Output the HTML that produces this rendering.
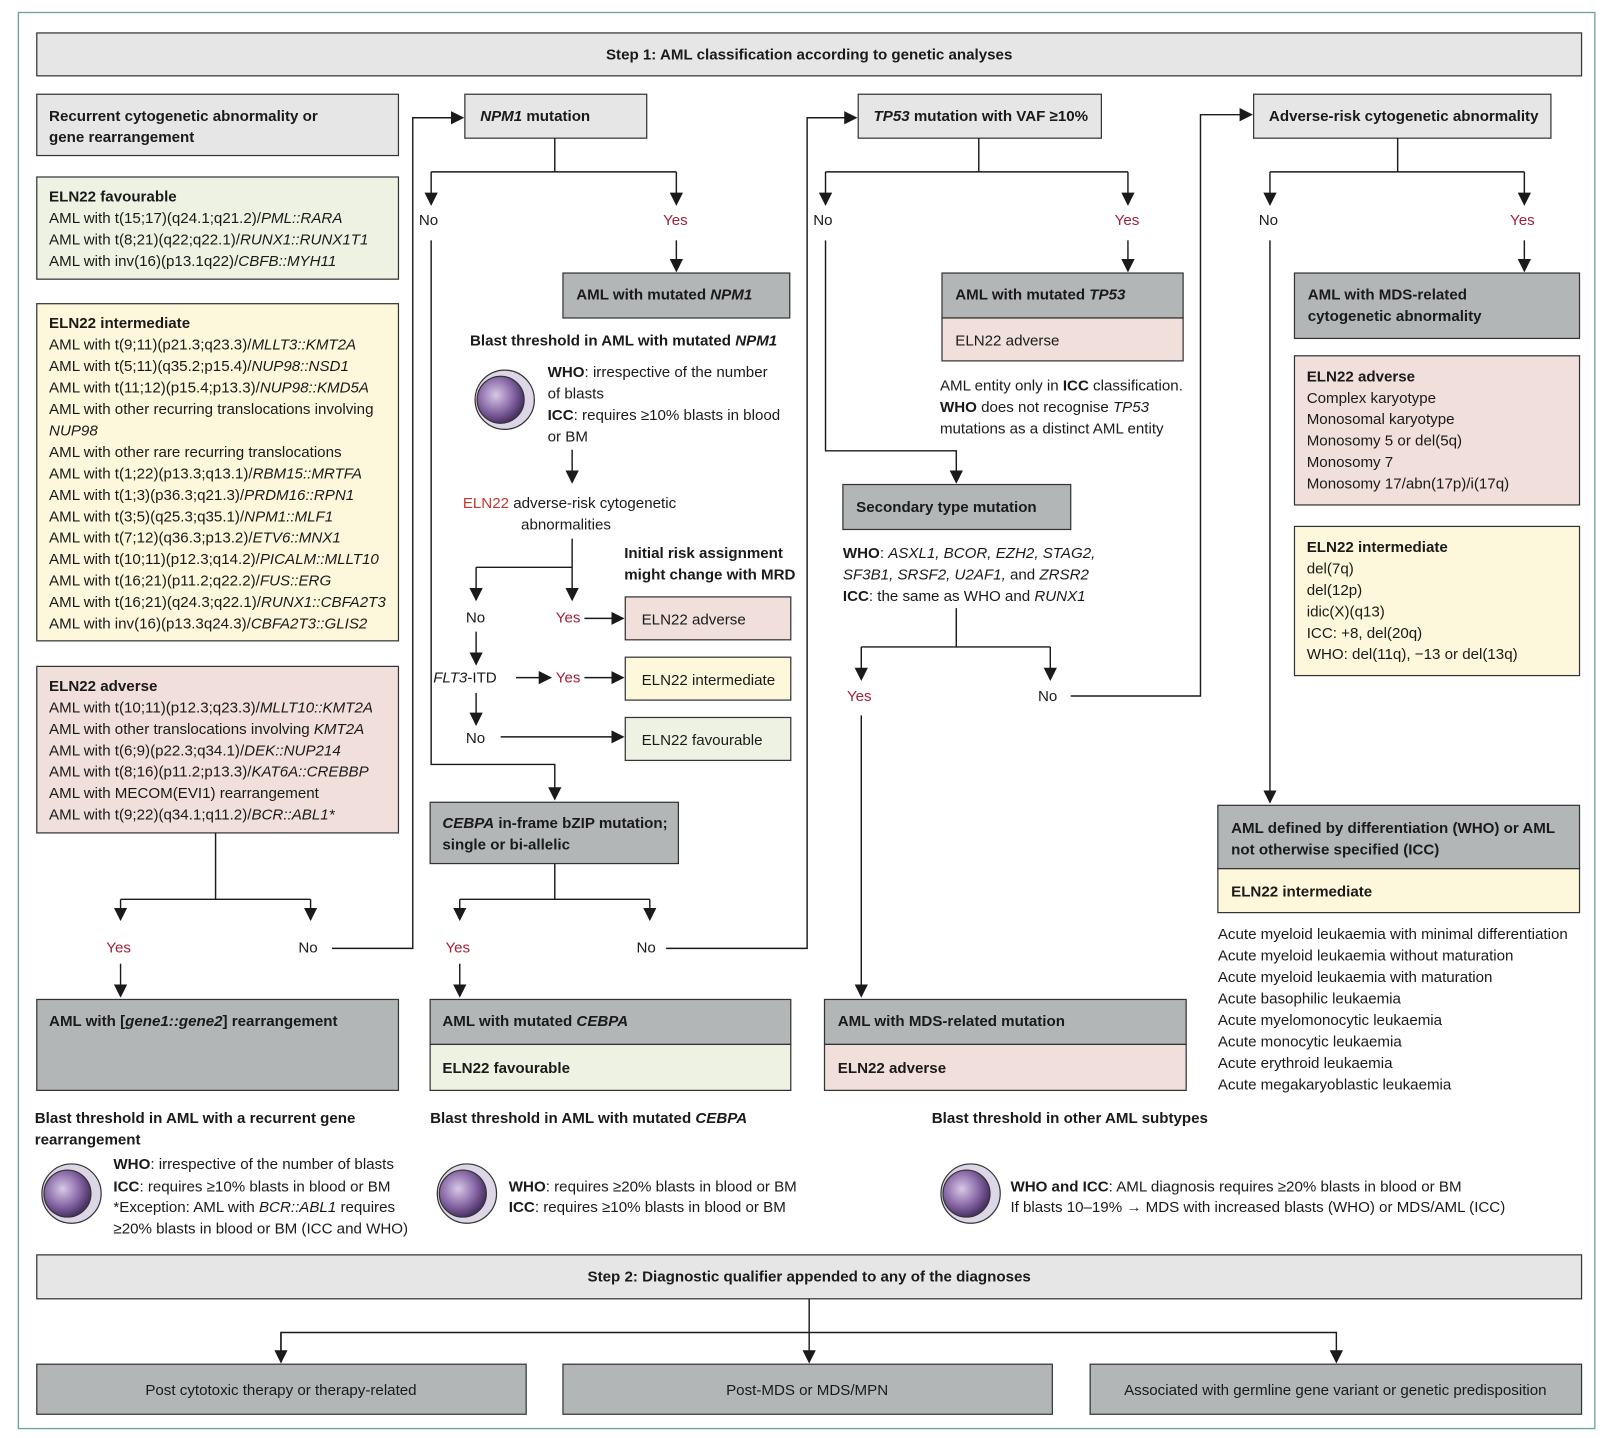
<!DOCTYPE html>
<html><head><meta charset="utf-8"><style>
html,body{margin:0;padding:0;background:#fff;}
svg{display:block;}
text{font-family:"Liberation Sans",sans-serif;font-size:14.8px;fill:#1a1a1a;}
.b{font-weight:bold;}
.r{fill:#a3203a;}
.ln{stroke:#1a1a1a;stroke-width:1.4;fill:none;}
.bx{stroke:#333;stroke-width:1.2;}
.lg{fill:#e6e6e6;}.dg{fill:#b3b6b7;}.gr{fill:#eef2e2;}.ye{fill:#fdf7db;}.pk{fill:#f1dfdb;}
</style></head><body>
<svg width="1602" height="1438" viewBox="0 0 1568 1407" xmlns="http://www.w3.org/2000/svg">
<defs>
<marker id="a" viewBox="0 0 10 10" refX="9" refY="5" markerWidth="13" markerHeight="13" markerUnits="userSpaceOnUse" orient="auto"><path d="M0,0L10,5L0,10z" fill="#1a1a1a"/></marker>
<radialGradient id="cg" cx="40%" cy="40%" r="60%"><stop offset="0" stop-color="#d8c9e6"/><stop offset="0.6" stop-color="#8a6aa8"/><stop offset="1" stop-color="#4a3366"/></radialGradient>
<g id="cell"><circle r="29" fill="#ddd6e6" stroke="#333" stroke-width="1.2"/><circle cx="-4" cy="0" r="23" fill="url(#cg)" stroke="#333" stroke-width="1.2"/></g>
</defs>
<rect x="18" y="12" width="1543" height="1386" fill="none" stroke="#6aa596" stroke-width="1.3"/>
<rect class="bx lg" x="36" y="32" width="1512" height="42"/>
<text class="b" x="792" y="58" text-anchor="middle">Step 1: AML classification according to genetic analyses</text>

<!-- Column 1 -->
<rect class="bx lg" x="36" y="92" width="354" height="60"/>
<text class="b" x="48" y="118">Recurrent cytogenetic abnormality or</text>
<text class="b" x="48" y="139">gene rearrangement</text>
<rect class="bx gr" x="36" y="173" width="354" height="100"/>
<text class="b" x="48" y="197">ELN22 favourable</text>
<text x="48" y="218">AML with t(15;17)(q24.1;q21.2)/<tspan font-style="italic">PML::RARA</tspan></text>
<text x="48" y="239">AML with t(8;21)(q22;q22.1)/<tspan font-style="italic">RUNX1::RUNX1T1</tspan></text>
<text x="48" y="260">AML with inv(16)(p13.1q22)/<tspan font-style="italic">CBFB::MYH11</tspan></text>
<rect class="bx ye" x="36" y="297" width="354" height="330"/>
<text class="b" x="48" y="321">ELN22 intermediate</text>
<text x="48" y="342">AML with t(9;11)(p21.3;q23.3)/<tspan font-style="italic">MLLT3::KMT2A</tspan></text>
<text x="48" y="363">AML with t(5;11)(q35.2;p15.4)/<tspan font-style="italic">NUP98::NSD1</tspan></text>
<text x="48" y="384">AML with t(11;12)(p15.4;p13.3)/<tspan font-style="italic">NUP98::KMD5A</tspan></text>
<text x="48" y="405">AML with other recurring translocations involving</text>
<text x="48" y="426" font-style="italic">NUP98</text>
<text x="48" y="447">AML with other rare recurring translocations</text>
<text x="48" y="468">AML with t(1;22)(p13.3;q13.1)/<tspan font-style="italic">RBM15::MRTFA</tspan></text>
<text x="48" y="489">AML with t(1;3)(p36.3;q21.3)/<tspan font-style="italic">PRDM16::RPN1</tspan></text>
<text x="48" y="510">AML with t(3;5)(q25.3;q35.1)/<tspan font-style="italic">NPM1::MLF1</tspan></text>
<text x="48" y="531">AML with t(7;12)(q36.3;p13.2)/<tspan font-style="italic">ETV6::MNX1</tspan></text>
<text x="48" y="552">AML with t(10;11)(p12.3;q14.2)/<tspan font-style="italic">PICALM::MLLT10</tspan></text>
<text x="48" y="573">AML with t(16;21)(p11.2;q22.2)/<tspan font-style="italic">FUS::ERG</tspan></text>
<text x="48" y="594">AML with t(16;21)(q24.3;q22.1)/<tspan font-style="italic">RUNX1::CBFA2T3</tspan></text>
<text x="48" y="615">AML with inv(16)(p13.3q24.3)/<tspan font-style="italic">CBFA2T3::GLIS2</tspan></text>
<rect class="bx pk" x="36" y="652" width="354" height="163"/>
<text class="b" x="48" y="676">ELN22 adverse</text>
<text x="48" y="697">AML with t(10;11)(p12.3;q23.3)/<tspan font-style="italic">MLLT10::KMT2A</tspan></text>
<text x="48" y="718">AML with other translocations involving <tspan font-style="italic">KMT2A</tspan></text>
<text x="48" y="739">AML with t(6;9)(p22.3;q34.1)/<tspan font-style="italic">DEK::NUP214</tspan></text>
<text x="48" y="760">AML with t(8;16)(p11.2;p13.3)/<tspan font-style="italic">KAT6A::CREBBP</tspan></text>
<text x="48" y="781">AML with MECOM(EVI1) rearrangement</text>
<text x="48" y="802">AML with t(9;22)(q34.1;q11.2)/<tspan font-style="italic">BCR::ABL1*</tspan></text>
<path class="ln" d="M211,815V880M118,880H304"/>
<path class="ln" d="M118,880V900" marker-end="url(#a)"/>
<path class="ln" d="M304,880V900" marker-end="url(#a)"/>
<text class="r" x="104" y="932">Yes</text>
<text x="292" y="932">No</text>
<path class="ln" d="M325,928H404V115H453" marker-end="url(#a)"/>
<path class="ln" d="M118,943V975" marker-end="url(#a)"/>
<rect class="bx dg" x="36" y="978" width="354" height="89"/>
<text class="b" x="48" y="1004">AML with [<tspan font-style="italic">gene1::gene2</tspan>] rearrangement</text>
<text class="b" x="34" y="1099">Blast threshold in AML with a recurrent gene</text>
<text class="b" x="34" y="1120">rearrangement</text>
<use href="#cell" x="70" y="1168"/>
<text x="111" y="1144"><tspan class="b">WHO</tspan>: irrespective of the number of blasts</text>
<text x="111" y="1166"><tspan class="b">ICC</tspan>: requires ≥10% blasts in blood or BM</text>
<text x="111" y="1186">*Exception: AML with <tspan font-style="italic">BCR::ABL1</tspan> requires</text>
<text x="111" y="1207">≥20% blasts in blood or BM (ICC and WHO)</text>

<!-- Column 2 -->
<rect class="bx lg" x="455" y="92" width="178" height="43"/>
<text class="b" x="470" y="118"><tspan font-style="italic">NPM1</tspan> mutation</text>
<path class="ln" d="M543,135V168M422,168H662"/>
<path class="ln" d="M422,168V200" marker-end="url(#a)"/>
<path class="ln" d="M662,168V200" marker-end="url(#a)"/>
<text x="410" y="220">No</text><text class="r" x="649" y="220">Yes</text>
<path class="ln" d="M662,235V265" marker-end="url(#a)"/>
<rect class="bx dg" x="551" y="267" width="222" height="44"/>
<text class="b" x="564" y="293">AML with mutated <tspan font-style="italic">NPM1</tspan></text>
<text class="b" x="460" y="338">Blast threshold in AML with mutated <tspan font-style="italic">NPM1</tspan></text>
<use href="#cell" x="494" y="391"/>
<text x="536" y="369"><tspan class="b">WHO</tspan>: irrespective of the number</text>
<text x="536" y="390">of blasts</text>
<text x="536" y="411"><tspan class="b">ICC</tspan>: requires ≥10% blasts in blood</text>
<text x="536" y="432">or BM</text>
<path class="ln" d="M560,440V472" marker-end="url(#a)"/>
<text x="453" y="497"><tspan fill="#c0392b">ELN22</tspan> adverse-risk cytogenetic</text>
<text x="510" y="518">abnormalities</text>
<path class="ln" d="M560,527V555M466,555H560"/>
<path class="ln" d="M466,555V587" marker-end="url(#a)"/>
<path class="ln" d="M560,555V587" marker-end="url(#a)"/>
<text class="b" x="611" y="546">Initial risk assignment</text>
<text class="b" x="611" y="567">might change with MRD</text>
<text x="456" y="609">No</text><text class="r" x="544" y="609">Yes</text>
<path class="ln" d="M572,605H610" marker-end="url(#a)"/>
<rect class="bx pk" x="612" y="584" width="162" height="42"/>
<text x="628" y="611">ELN22 adverse</text>
<path class="ln" d="M466,618V650" marker-end="url(#a)"/>
<text x="424" y="668"><tspan font-style="italic">FLT3</tspan>-ITD</text>
<path class="ln" d="M505,663H539" marker-end="url(#a)"/>
<text class="r" x="544" y="668">Yes</text>
<path class="ln" d="M572,663H610" marker-end="url(#a)"/>
<rect class="bx ye" x="612" y="643" width="162" height="42"/>
<text x="628" y="670">ELN22 intermediate</text>
<path class="ln" d="M466,678V709" marker-end="url(#a)"/>
<text x="456" y="727">No</text>
<path class="ln" d="M490,721H610" marker-end="url(#a)"/>
<rect class="bx gr" x="612" y="702" width="162" height="42"/>
<text x="628" y="729">ELN22 favourable</text>
<path class="ln" d="M422,235V748H543V782" marker-end="url(#a)"/>
<rect class="bx dg" x="421" y="785" width="243" height="60"/>
<text class="b" x="433" y="810"><tspan font-style="italic">CEBPA</tspan> in-frame bZIP mutation;</text>
<text class="b" x="433" y="831">single or bi-allelic</text>
<path class="ln" d="M543,845V880M450,880H636"/>
<path class="ln" d="M450,880V900" marker-end="url(#a)"/>
<path class="ln" d="M636,880V900" marker-end="url(#a)"/>
<text class="r" x="436" y="932">Yes</text><text x="623" y="932">No</text>
<path class="ln" d="M652,928H790V115H838" marker-end="url(#a)"/>
<path class="ln" d="M450,943V975" marker-end="url(#a)"/>
<rect class="bx dg" x="421" y="978" width="353" height="44"/>
<text class="b" x="433" y="1004">AML with mutated <tspan font-style="italic">CEBPA</tspan></text>
<rect class="bx gr" x="421" y="1022" width="353" height="45"/>
<text class="b" x="433" y="1050">ELN22 favourable</text>
<text class="b" x="421" y="1099">Blast threshold in AML with mutated <tspan font-style="italic">CEBPA</tspan></text>
<use href="#cell" x="457" y="1168"/>
<text x="498" y="1166"><tspan class="b">WHO</tspan>: requires ≥20% blasts in blood or BM</text>
<text x="498" y="1186"><tspan class="b">ICC</tspan>: requires ≥10% blasts in blood or BM</text>

<!-- Column 3 -->
<rect class="bx lg" x="840" y="92" width="238" height="43"/>
<text class="b" x="855" y="118"><tspan font-style="italic">TP53</tspan> mutation with VAF ≥10%</text>
<path class="ln" d="M958,135V168M808,168H1104"/>
<path class="ln" d="M808,168V200" marker-end="url(#a)"/>
<path class="ln" d="M1104,168V200" marker-end="url(#a)"/>
<text x="796" y="220">No</text><text class="r" x="1091" y="220">Yes</text>
<path class="ln" d="M1104,235V265" marker-end="url(#a)"/>
<rect class="bx dg" x="922" y="267" width="236" height="44"/>
<text class="b" x="935" y="293">AML with mutated <tspan font-style="italic">TP53</tspan></text>
<rect class="bx pk" x="922" y="311" width="236" height="42"/>
<text x="935" y="338">ELN22 adverse</text>
<text x="920" y="382">AML entity only in <tspan class="b">ICC</tspan> classification.</text>
<text x="920" y="403"><tspan class="b">WHO</tspan> does not recognise <tspan font-style="italic">TP53</tspan></text>
<text x="920" y="424">mutations as a distinct AML entity</text>
<path class="ln" d="M808,235V441H936V472" marker-end="url(#a)"/>
<rect class="bx dg" x="825" y="474" width="223" height="44"/>
<text class="b" x="838" y="501">Secondary type mutation</text>
<text x="825" y="546"><tspan class="b">WHO</tspan>: <tspan font-style="italic">ASXL1, BCOR, EZH2, STAG2,</tspan></text>
<text x="825" y="567" font-style="italic">SF3B1, SRSF2, U2AF1, <tspan font-style="normal">and</tspan> ZRSR2</text>
<text x="825" y="588"><tspan class="b">ICC</tspan>: the same as WHO and <tspan font-style="italic">RUNX1</tspan></text>
<path class="ln" d="M936,595V633M843,633H1028"/>
<path class="ln" d="M843,633V665" marker-end="url(#a)"/>
<path class="ln" d="M1028,633V665" marker-end="url(#a)"/>
<text class="r" x="829" y="686">Yes</text><text x="1016" y="686">No</text>
<path class="ln" d="M1048,681H1175V112H1225" marker-end="url(#a)"/>
<path class="ln" d="M843,700V975" marker-end="url(#a)"/>
<rect class="bx dg" x="807" y="978" width="354" height="44"/>
<text class="b" x="820" y="1004">AML with MDS-related mutation</text>
<rect class="bx pk" x="807" y="1022" width="354" height="45"/>
<text class="b" x="820" y="1050">ELN22 adverse</text>
<text class="b" x="912" y="1099">Blast threshold in other AML subtypes</text>
<use href="#cell" x="950" y="1168"/>
<text x="989" y="1166"><tspan class="b">WHO and ICC</tspan>: AML diagnosis requires ≥20% blasts in blood or BM</text>
<text x="989" y="1186">If blasts 10–19% → MDS with increased blasts (WHO) or MDS/AML (ICC)</text>

<!-- Column 4 -->
<rect class="bx lg" x="1227" y="92" width="291" height="43"/>
<text class="b" x="1242" y="118">Adverse-risk cytogenetic abnormality</text>
<path class="ln" d="M1368,135V168M1243,168H1492"/>
<path class="ln" d="M1243,168V200" marker-end="url(#a)"/>
<path class="ln" d="M1492,168V200" marker-end="url(#a)"/>
<text x="1232" y="220">No</text><text class="r" x="1478" y="220">Yes</text>
<path class="ln" d="M1492,235V265" marker-end="url(#a)"/>
<rect class="bx dg" x="1267" y="267" width="279" height="64"/>
<text class="b" x="1280" y="293">AML with MDS-related</text>
<text class="b" x="1280" y="314">cytogenetic abnormality</text>
<rect class="bx pk" x="1267" y="348" width="279" height="146"/>
<text class="b" x="1279" y="373">ELN22 adverse</text>
<text x="1279" y="394">Complex karyotype</text>
<text x="1279" y="415">Monosomal karyotype</text>
<text x="1279" y="436">Monosomy 5 or del(5q)</text>
<text x="1279" y="457">Monosomy 7</text>
<text x="1279" y="478">Monosomy 17/abn(17p)/i(17q)</text>
<rect class="bx ye" x="1267" y="515" width="279" height="146"/>
<text class="b" x="1279" y="540">ELN22 intermediate</text>
<text x="1279" y="561">del(7q)</text>
<text x="1279" y="582">del(12p)</text>
<text x="1279" y="603">idic(X)(q13)</text>
<text x="1279" y="624">ICC: +8, del(20q)</text>
<text x="1279" y="645">WHO: del(11q), −13 or del(13q)</text>
<path class="ln" d="M1243,235V785" marker-end="url(#a)"/>
<rect class="bx dg" x="1192" y="788" width="354" height="62"/>
<text class="b" x="1205" y="815">AML defined by differentiation (WHO) or AML</text>
<text class="b" x="1205" y="836">not otherwise specified (ICC)</text>
<rect class="bx ye" x="1192" y="850" width="354" height="43"/>
<text class="b" x="1205" y="877">ELN22 intermediate</text>
<text x="1192" y="919">Acute myeloid leukaemia with minimal differentiation</text>
<text x="1192" y="940">Acute myeloid leukaemia without maturation</text>
<text x="1192" y="961">Acute myeloid leukaemia with maturation</text>
<text x="1192" y="982">Acute basophilic leukaemia</text>
<text x="1192" y="1003">Acute myelomonocytic leukaemia</text>
<text x="1192" y="1024">Acute monocytic leukaemia</text>
<text x="1192" y="1045">Acute erythroid leukaemia</text>
<text x="1192" y="1066">Acute megakaryoblastic leukaemia</text>

<!-- Step 2 -->
<rect class="bx lg" x="36" y="1228" width="1512" height="43"/>
<text class="b" x="792" y="1254" text-anchor="middle">Step 2: Diagnostic qualifier appended to any of the diagnoses</text>
<path class="ln" d="M792,1271V1333" marker-end="url(#a)"/>
<path class="ln" d="M275,1333V1304H1308V1333" marker-end="url(#a)"/>
<path class="ln" d="M275,1304V1333" marker-end="url(#a)"/>
<rect class="bx dg" x="36" y="1335" width="479" height="49"/>
<rect class="bx dg" x="551" y="1335" width="479" height="49"/>
<rect class="bx dg" x="1067" y="1335" width="481" height="49"/>
<text x="275" y="1365" text-anchor="middle">Post cytotoxic therapy or therapy-related</text>
<text x="790" y="1365" text-anchor="middle">Post-MDS or MDS/MPN</text>
<text x="1307" y="1365" text-anchor="middle">Associated with germline gene variant or genetic predisposition</text>
</svg>
</body></html>
